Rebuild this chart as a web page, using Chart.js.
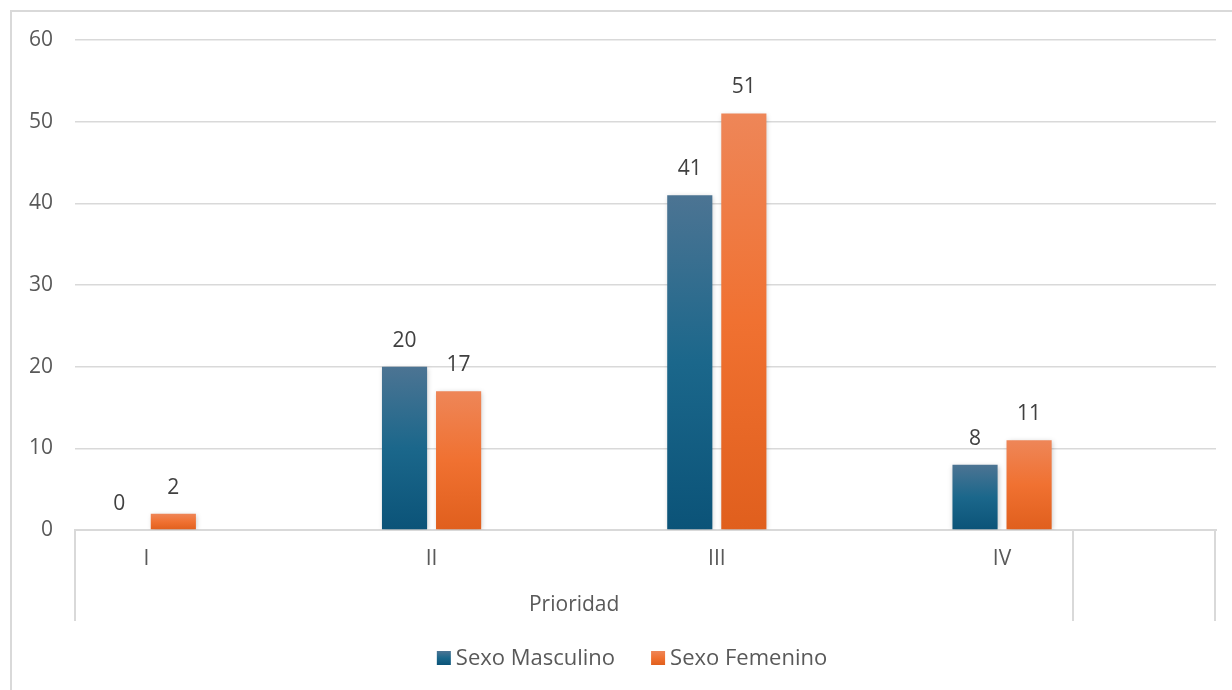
<!DOCTYPE html>
<html>
<head>
<meta charset="utf-8">
<script src="https://cdn.jsdelivr.net/npm/chart.js@4.4.1/dist/chart.umd.min.js"></script>
<style>
  html, body { margin: 0; padding: 0; background: #fff; }
  #wrap { width: 1232px; height: 690px; position: relative; }
</style>
</head>
<body>
<div id="wrap"><canvas id="chart"></canvas></div>
<script>
// Pacientes por prioridad y sexo
const CATEGORIES = ["I", "II", "III", "IV"];
const MALE = [0, 20, 41, 8];
const FEMALE = [2, 17, 51, 11];
const Y_TICKS = [0, 10, 20, 30, 40, 50, 60];
const AXIS_TITLE = "Prioridad";
const SERIES_NAMES = ["Sexo Masculino", "Sexo Femenino"];

const FONT = "'Open Sans', 'Liberation Sans', sans-serif";
const FONT_SIZE = 21;
const LEGEND_SIZE = 22;
const TEXT_GREY = "#595959";
const LINE_GREY = "#d9d9d9";

const BLUE_STOPS = ["#4c7493", "#1b678b", "#0b5378"];
const ORANGE_STOPS = ["#ee8658", "#f07131", "#e05f1d"];

function stopsGradient(ctx, y0, y1, stops) {
    const g = ctx.createLinearGradient(0, y0, 0, y1);
    g.addColorStop(0, stops[0]);
    g.addColorStop(0.5, stops[1]);
    g.addColorStop(1, stops[2]);
    return g;
}

// per-bar vertical gradient, lighter at the top
function barFill(stops) {
    return (c) => {
        const chart = c.chart;
        const y = chart.scales && chart.scales.y;
        if (!y || !c.raw || !chart.chartArea) return stops[1];
        const top = y.getPixelForValue(c.raw.y);
        const base = y.getPixelForValue(0);
        if (!isFinite(top) || base - top < 1) return stops[1];
        return stopsGradient(chart.ctx, top, base, stops);
    };
}

const toPoints = (arr) => arr.map((v, i) => ({ x: i, y: v }));

// soft halo around the bars
const barShadow = {
    id: "barShadow",
    beforeDatasetsDraw(chart) {
        const ctx = chart.ctx;
        ctx.save();
        ctx.shadowColor = "rgba(0,0,0,0.22)";
        ctx.shadowBlur = 5;
        ctx.shadowOffsetX = 1;
        ctx.shadowOffsetY = 1;
    },
    afterDatasetsDraw(chart) {
        chart.ctx.restore();
    }
};

// value labels above each bar
const valueLabels = {
    id: "valueLabels",
    afterDatasetsDraw(chart) {
        const ctx = chart.ctx;
        ctx.save();
        ctx.font = FONT_SIZE + "px " + FONT;
        ctx.fillStyle = "#404040";
        ctx.textAlign = "center";
        ctx.textBaseline = "middle";
        chart.data.datasets.forEach((ds, di) => {
            const meta = chart.getDatasetMeta(di);
            meta.data.forEach((bar, i) => {
                ctx.fillText(String(ds.data[i].y), bar.x, bar.y - 26);
            });
        });
        ctx.restore();
    }
};

// category frame lines, group title, legend and outer border
const frame = {
    id: "frame",
    afterDraw(chart) {
        const ctx = chart.ctx;
        const x = chart.scales.x;
        const area = chart.chartArea;
        const axisY = area.bottom;
        ctx.save();

        ctx.strokeStyle = LINE_GREY;
        ctx.lineWidth = 2;
        [-0.25, CATEGORIES.length - 0.75, CATEGORIES.length - 0.25].forEach(v => {
            const px = Math.min(Math.round(x.getPixelForValue(v)), area.right - 1);
            ctx.beginPath();
            ctx.moveTo(px, axisY);
            ctx.lineTo(px, axisY + 91);
            ctx.stroke();
        });

        ctx.font = FONT_SIZE + "px " + FONT;
        ctx.fillStyle = TEXT_GREY;
        ctx.textAlign = "center";
        ctx.textBaseline = "middle";
        const mid = (x.getPixelForValue(-0.25) + x.getPixelForValue(CATEGORIES.length - 0.75)) / 2;
        ctx.fillText(AXIS_TITLE, mid, axisY + 75);

        // legend
        const box = 14, gapText = 5, gapItem = 36, ly = 658;
        ctx.font = LEGEND_SIZE + "px " + FONT;
        ctx.textAlign = "left";
        const widths = chart.data.datasets.map(ds => ctx.measureText(ds.label).width);
        let total = 0;
        widths.forEach((w, i) => { total += box + gapText + w + (i ? gapItem : 0); });
        let lx = 632 - total / 2;
        chart.data.datasets.forEach((ds, i) => {
            ctx.fillStyle = stopsGradient(ctx, ly - box / 2, ly + box / 2, ds.stops);
            ctx.fillRect(lx, ly - box / 2, box, box);
            lx += box + gapText;
            ctx.fillStyle = TEXT_GREY;
            ctx.fillText(ds.label, lx, ly + 1);
            lx += widths[i] + gapItem;
        });

        ctx.strokeStyle = LINE_GREY;
        ctx.lineWidth = 2;
        ctx.strokeRect(11, 11, 1240, 700);
        ctx.restore();
    }
};

new Chart(document.getElementById("chart"), {
    type: "bar",
    data: {
        datasets: [
            {
                label: SERIES_NAMES[0],
                data: toPoints(MALE),
                stops: BLUE_STOPS,
                backgroundColor: barFill(BLUE_STOPS),
                borderWidth: 0
            },
            {
                label: SERIES_NAMES[1],
                data: toPoints(FEMALE),
                stops: ORANGE_STOPS,
                backgroundColor: barFill(ORANGE_STOPS),
                borderWidth: 0
            }
        ]
    },
    options: {
        responsive: true,
        maintainAspectRatio: false,
        animation: false,
        categoryPercentage: 0.379,
        barPercentage: 0.835,
        layout: { padding: { top: 40, right: 16, bottom: 0, left: 0 } },
        plugins: {
            legend: { display: false },
            tooltip: { enabled: false }
        },
        scales: {
            x: {
                type: "linear",
                offset: false,
                min: -0.25,
                max: CATEGORIES.length - 0.25,
                afterBuildTicks: (s) => { s.ticks = CATEGORIES.map((_, i) => ({ value: i })); },
                afterFit: (s) => { s.height = 160; },
                ticks: {
                    callback: (v) => CATEGORIES[v] ?? "",
                    color: TEXT_GREY,
                    font: { family: FONT, size: FONT_SIZE },
                    padding: 16,
                    maxRotation: 0,
                    autoSkip: false
                },
                grid: { display: false, drawTicks: false, offset: false },
                border: { display: true, color: LINE_GREY, width: 2 }
            },
            y: {
                min: 0,
                max: 60,
                afterBuildTicks: (s) => { s.ticks = Y_TICKS.map(v => ({ value: v })); },
                afterFit: (s) => { s.width = 75; },
                ticks: {
                    color: TEXT_GREY,
                    font: { family: FONT, size: FONT_SIZE },
                    padding: 22
                },
                grid: { color: LINE_GREY, lineWidth: 1.5, drawTicks: false },
                border: { display: false }
            }
        }
    },
    plugins: [barShadow, valueLabels, frame]
});
</script>
</body>
</html>
